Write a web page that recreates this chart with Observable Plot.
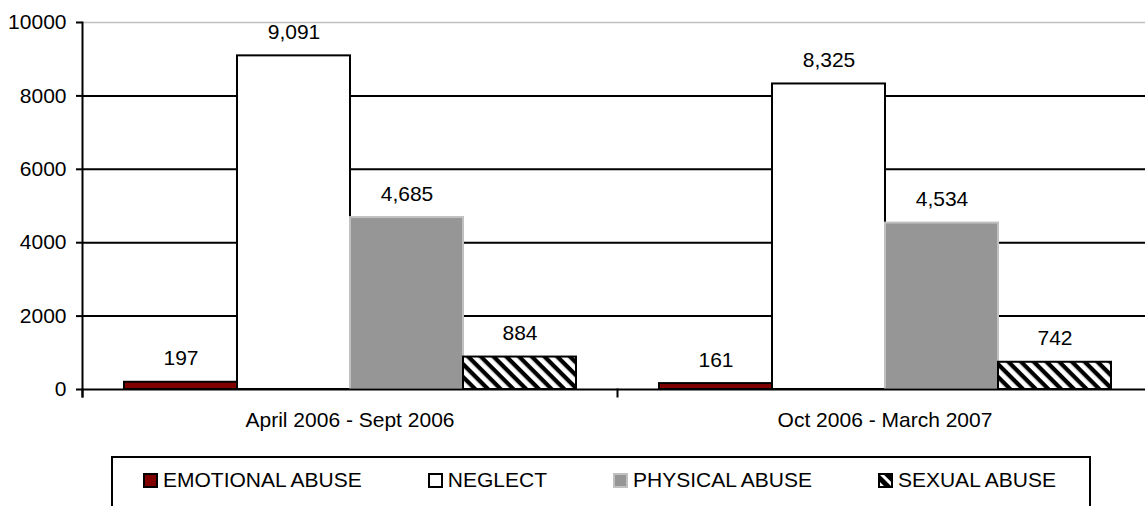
<!DOCTYPE html>
<html>
<head>
<meta charset="utf-8">
<script src="https://cdn.jsdelivr.net/npm/d3@7"></script>
<script src="https://cdn.jsdelivr.net/npm/@observablehq/plot@0.6"></script>
<style>
  html, body { margin: 0; padding: 0; background: #fff; overflow: hidden; width: 1145px; height: 506px; }
  body { position: relative; font-family: "Liberation Sans", Arial, sans-serif; color: #000; }
  #chart { position: absolute; left: 0; top: 0; }
  #legend { position: absolute; left: 111px; top: 456px; width: 980px; height: 80px; box-sizing: border-box;
            border: 2px solid #000; background: #fff; padding: 10px 0 0 30px; display: flex; gap: 66px;
            align-items: flex-start; }
  #legend .item { display: flex; align-items: center; height: 24px; font-size: 21px; line-height: 24px; white-space: nowrap; }
  #legend svg { margin-right: 5px; display: block; }
</style>
</head>
<body>
<svg width="0" height="0" style="position:absolute">
  <defs>
    <pattern id="hatch" patternUnits="userSpaceOnUse" width="9" height="9" patternTransform="rotate(45)">
      <rect x="0" y="0" width="9" height="4.5" fill="#000"></rect>
      <rect x="0" y="4.5" width="9" height="4.5" fill="#fff"></rect>
    </pattern>
    <pattern id="hatchS" patternUnits="userSpaceOnUse" width="8" height="8" patternTransform="rotate(45)">
      <rect x="0" y="0" width="8" height="5" fill="#000"></rect>
      <rect x="0" y="5" width="8" height="3" fill="#fff"></rect>
    </pattern>
  </defs>
</svg>
<div id="chart"></div>
<div id="legend"></div>
<script>
// ---- data ----
const periods = ["April 2006 - Sept 2006", "Oct 2006 - March 2007"];
const types = ["EMOTIONAL ABUSE", "NEGLECT", "PHYSICAL ABUSE", "SEXUAL ABUSE"];
const emotionalAbuse = [197, 161];
const neglect = [9091, 8325];
const physicalAbuse = [4685, 4534];
const sexualAbuse = [884, 742];
const yTicks = [0, 2000, 4000, 6000, 8000, 10000];

// ---- styles ----
const fills = ["#800000", "#ffffff", "#969696", "url(#hatch)"];
const legendFills = ["#800000", "#ffffff", "#969696", "url(#hatchS)"];
const strokes = ["#000000", "#000000", "#c0c0c0", "#000000"];

const seriesValues = [emotionalAbuse, neglect, physicalAbuse, sexualAbuse];
const rows = [];
periods.forEach((p, i) => types.forEach((t, j) => rows.push({period: p, type: t, value: seriesValues[j][i]})));
const fillOf = new Map(types.map((t, j) => [t, fills[j]]));
const strokeOf = new Map(types.map((t, j) => [t, strokes[j]]));
const fmt = d3.format(",");

const W = 1145, H = 450, mT = 22, mB = 61, mL = 82, mR = -7;
const font = "'Liberation Sans', Arial, sans-serif";

const chart = Plot.plot({
  width: W, height: H,
  marginTop: mT, marginBottom: mB, marginLeft: mL, marginRight: mR,
  style: {fontFamily: font, fontSize: "21px", color: "#000", background: "transparent", overflow: "visible"},
  fx: {domain: periods, padding: 0, label: null, axis: null},
  x: {domain: types, paddingInner: 0, paddingOuter: 0.351, axis: null},
  y: {domain: [0, 10000], axis: null},
  color: {type: "identity"},
  marks: [
    Plot.ruleY(yTicks.filter(d => d > 0 && d < 10000), {stroke: "#000", strokeWidth: 2}),
    Plot.ruleY(yTicks.filter(d => d === 10000), {stroke: "#c0c0c0", strokeWidth: 1.5}),
    Plot.barY(rows, {fx: "period", x: "type", y: "value",
      fill: d => fillOf.get(d.type), stroke: d => strokeOf.get(d.type), strokeWidth: 2}),
    Plot.text(rows, {fx: "period", x: "type", y: "value", text: d => fmt(d.value),
      lineAnchor: "bottom", dy: -17, fontSize: 21, fill: "#000"}),
    Plot.ruleY([0], {stroke: "#000", strokeWidth: 2}),
    Plot.frame({anchor: "left", facetAnchor: "left", stroke: "#000", strokeWidth: 2, insetBottom: -7}),
    Plot.frame({anchor: "left", stroke: "#000", strokeWidth: 2, insetTop: H - mT - mB, insetBottom: -7}),
    Plot.axisY({ticks: yTicks, tickSize: 6, tickPadding: 10, strokeWidth: 2, tickFormat: d => String(d),
      fontSize: 21, label: null}),
    Plot.axisFx({anchor: "bottom", tickSize: 0, tickPadding: 23, fontSize: 21, label: null})
  ]
});
document.getElementById("chart").appendChild(chart);

// ---- legend ----
const legend = document.getElementById("legend");
types.forEach((t, j) => {
  const item = document.createElement("div");
  item.className = "item";
  item.innerHTML = `<svg width="15" height="15"><rect x="1" y="1" width="13" height="13" fill="${legendFills[j]}" stroke="${strokes[j]}" stroke-width="2"></rect></svg><span>${t}</span>`;
  legend.appendChild(item);
});
</script>
</body>
</html>
